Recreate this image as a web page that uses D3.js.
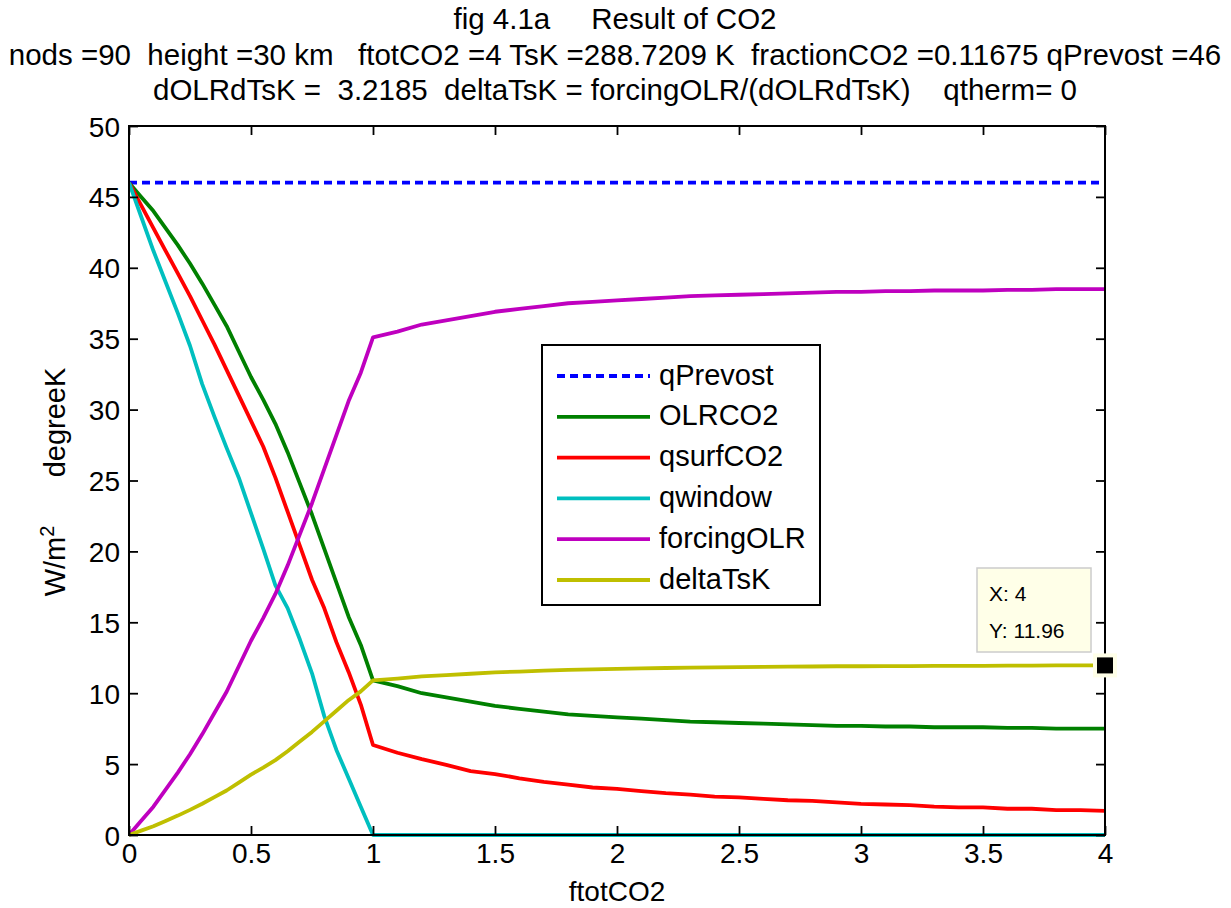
<!DOCTYPE html>
<html>
<head>
<meta charset="utf-8">
<script src="https://cdn.jsdelivr.net/npm/d3@7"></script>
<style>
  html, body { margin: 0; padding: 0; background: #fff; }
  svg text { font-family: "Liberation Sans", Arial, sans-serif; white-space: pre; }
</style>
</head>
<body>
<svg id="chart" width="1231" height="908"></svg>
<script>
// ftotCO2 sample points
const ftot = [0, 0.05, 0.1, 0.15, 0.2, 0.25, 0.3, 0.35, 0.4, 0.45, 0.5, 0.55, 0.6, 0.65, 0.7, 0.75, 0.8, 0.85, 0.9, 0.95, 1.0,
  1.1, 1.2, 1.3, 1.4, 1.5, 1.6, 1.7, 1.8, 1.9, 2.0, 2.1, 2.2, 2.3, 2.4, 2.5, 2.6, 2.7, 2.8, 2.9, 3.0,
  3.1, 3.2, 3.3, 3.4, 3.5, 3.6, 3.7, 3.8, 3.9, 4.0];

const qPrevost = [46, 46, 46, 46, 46, 46, 46, 46, 46, 46, 46, 46, 46, 46, 46, 46, 46, 46, 46, 46, 46,
  46, 46, 46, 46, 46, 46, 46, 46, 46, 46, 46, 46, 46, 46, 46, 46, 46, 46, 46, 46,
  46, 46, 46, 46, 46, 46, 46, 46, 46, 46];

const OLRCO2 = [46, 45.0, 44.0, 42.8, 41.6, 40.3, 38.9, 37.4, 35.9, 34.1, 32.3, 30.7, 29.0, 27.0, 24.8, 22.6, 20.2, 17.8, 15.4, 13.4, 10.9,
  10.5, 10.0, 9.7, 9.4, 9.1, 8.9, 8.7, 8.5, 8.4, 8.3, 8.2, 8.1, 8.0, 7.95, 7.9, 7.85, 7.8, 7.75, 7.7, 7.7,
  7.65, 7.65, 7.6, 7.6, 7.6, 7.55, 7.55, 7.5, 7.5, 7.5];

const qsurfCO2 = [46, 44.4, 42.8, 41.2, 39.6, 38.0, 36.3, 34.6, 32.8, 31.0, 29.2, 27.4, 25.2, 22.8, 20.4, 18.0, 16.0, 13.6, 11.5, 9.2, 6.35,
  5.8, 5.35, 4.95, 4.5, 4.3, 4.0, 3.75, 3.55, 3.35, 3.25, 3.1, 2.95, 2.85, 2.7, 2.65, 2.55, 2.45, 2.4, 2.3, 2.2,
  2.15, 2.1, 2.0, 1.95, 1.95, 1.85, 1.85, 1.75, 1.75, 1.7];

const qwindow = [46, 43.6, 41.2, 39.0, 36.8, 34.5, 31.8, 29.5, 27.3, 25.2, 22.7, 20.2, 17.6, 16.0, 13.8, 11.4, 8.4, 6.0, 4.0, 2.0, 0,
  0, 0, 0, 0, 0, 0, 0, 0, 0, 0, 0, 0, 0, 0, 0, 0, 0, 0, 0, 0,
  0, 0, 0, 0, 0, 0, 0, 0, 0, 0];

const forcingOLR = [0, 1.0, 2.0, 3.2, 4.4, 5.7, 7.1, 8.6, 10.1, 11.9, 13.7, 15.3, 17.0, 19.0, 21.2, 23.4, 25.8, 28.2, 30.6, 32.6, 35.1,
  35.5, 36.0, 36.3, 36.6, 36.9, 37.1, 37.3, 37.5, 37.6, 37.7, 37.8, 37.9, 38.0, 38.05, 38.1, 38.15, 38.2, 38.25, 38.3, 38.3,
  38.35, 38.35, 38.4, 38.4, 38.4, 38.45, 38.45, 38.5, 38.5, 38.5];

const deltaTsK = [0, 0.311, 0.621, 0.994, 1.367, 1.771, 2.206, 2.672, 3.138, 3.697, 4.257, 4.754, 5.282, 5.903, 6.587, 7.270, 8.016, 8.762, 9.508, 10.129, 10.906,
  11.030, 11.185, 11.279, 11.372, 11.465, 11.527, 11.589, 11.651, 11.682, 11.713, 11.745, 11.776, 11.807, 11.822, 11.838, 11.853, 11.869, 11.884, 11.900, 11.900,
  11.915, 11.915, 11.931, 11.931, 11.931, 11.947, 11.947, 11.962, 11.962, 11.962];

const seriesNames = ["qPrevost", "OLRCO2", "qsurfCO2", "qwindow", "forcingOLR", "deltaTsK"];
const seriesColors = ["#0000ff", "#008000", "#ff0000", "#00bfbf", "#bf00bf", "#bfbf00"];
const seriesValues = [qPrevost, OLRCO2, qsurfCO2, qwindow, forcingOLR, deltaTsK];

const xTicks = [0, 0.5, 1, 1.5, 2, 2.5, 3, 3.5, 4];
const xTickLabels = ["0", "0.5", "1", "1.5", "2", "2.5", "3", "3.5", "4"];
const yTicks = [0, 5, 10, 15, 20, 25, 30, 35, 40, 45, 50];

const titleLines = [
  "fig 4.1a     Result of CO2",
  "nods =90  height =30 km   ftotCO2 =4 TsK =288.7209 K  fractionCO2 =0.11675 qPrevost =46",
  "dOLRdTsK =  3.2185  deltaTsK = forcingOLR/(dOLRdTsK)    qtherm= 0"
];

const tipX = 4, tipY = 11.96;

const svg = d3.select("#chart");
const W = 1231, H = 908;
const plot = { left: 129, right: 1105, top: 126, bottom: 835 };

const x = d3.scaleLinear().domain([0, 4]).range([plot.left, plot.right]);
const y = d3.scaleLinear().domain([0, 50]).range([plot.bottom, plot.top]);

svg.append("rect").attr("width", W).attr("height", H).attr("fill", "#fff");

// title block
const titleY = [21, 57, 92];
const titleSize = 29.5;
titleLines.forEach((t, i) => {
  svg.append("text")
    .attr("x", 615).attr("y", titleY[i])
    .attr("text-anchor", "middle")
    .attr("dominant-baseline", "middle")
    .attr("font-size", titleSize)
    .attr("fill", "#000")
    .text(t);
});

// series lines
const clipId = "plotclip";
svg.append("clipPath").attr("id", clipId)
  .append("rect").attr("x", plot.left).attr("y", plot.top - 2)
  .attr("width", plot.right - plot.left).attr("height", plot.bottom - plot.top + 4);

const lw = 3.8;
const line = d3.line().x((d, i) => x(ftot[i])).y(d => y(d));
const gLines = svg.append("g").attr("clip-path", `url(#${clipId})`);
seriesValues.forEach((vals, k) => {
  const p = gLines.append("path")
    .attr("d", line(vals))
    .attr("fill", "none")
    .attr("stroke", seriesColors[k])
    .attr("stroke-width", lw)
    .attr("stroke-linejoin", "round");
  if (k === 0) p.attr("stroke-dasharray", "8,5").attr("stroke-linecap", "butt");
});

// axes, ticks pointing inward on all four sides
const fs = 28;
const axB = svg.append("g").attr("transform", `translate(0,${plot.bottom})`)
  .call(d3.axisBottom(x).tickValues(xTicks).tickFormat((d, i) => xTickLabels[i])
    .tickSizeInner(-9).tickSizeOuter(0).tickPadding(13));
const axT = svg.append("g").attr("transform", `translate(0,${plot.top})`)
  .call(d3.axisTop(x).tickValues(xTicks).tickFormat("").tickSizeInner(-9).tickSizeOuter(0));
const axL = svg.append("g").attr("transform", `translate(${plot.left},0)`)
  .call(d3.axisLeft(y).tickValues(yTicks).tickSizeInner(-9).tickSizeOuter(0).tickPadding(9));
const axR = svg.append("g").attr("transform", `translate(${plot.right},0)`)
  .call(d3.axisRight(y).tickValues(yTicks).tickFormat("").tickSizeInner(-9).tickSizeOuter(0));
[axB, axT, axL, axR].forEach(a => {
  a.select(".domain").remove();
  a.selectAll(".tick line").attr("stroke", "#000").attr("stroke-width", 1.8);
  a.selectAll(".tick text").attr("font-size", fs).attr("fill", "#000")
    .attr("font-family", "Liberation Sans, Arial, sans-serif");
});
axB.selectAll(".tick text").attr("dy", "0.55em");
axL.selectAll(".tick text").attr("dy", "0.36em");

svg.append("rect")
  .attr("x", plot.left).attr("y", plot.top)
  .attr("width", plot.right - plot.left).attr("height", plot.bottom - plot.top)
  .attr("fill", "none").attr("stroke", "#000").attr("stroke-width", 2);

// axis labels
svg.append("text")
  .attr("x", 617).attr("y", 894)
  .attr("text-anchor", "middle").attr("dominant-baseline", "middle")
  .attr("font-size", fs).text("ftotCO2");

const yl = svg.append("text")
  .attr("transform", "translate(65,482) rotate(-90)")
  .attr("text-anchor", "middle")
  .attr("font-size", 29);
yl.append("tspan").text("W/m");
yl.append("tspan").attr("font-size", 20).attr("dy", -11).text("2");
yl.append("tspan").attr("dy", 11).text("      degreeK");

// legend
const leg = { x: 542, y: 345, w: 278, h: 260 };
svg.append("rect")
  .attr("x", leg.x).attr("y", leg.y).attr("width", leg.w).attr("height", leg.h)
  .attr("fill", "#fff").attr("stroke", "#000").attr("stroke-width", 2);
seriesNames.forEach((name, k) => {
  const yy = 376 + k * 40.8;
  const l = svg.append("line")
    .attr("x1", 557).attr("x2", 650).attr("y1", yy).attr("y2", yy)
    .attr("stroke", seriesColors[k]).attr("stroke-width", lw);
  if (k === 0) l.attr("stroke-dasharray", "8,5");
  svg.append("text")
    .attr("x", 659).attr("y", yy + 1)
    .attr("dominant-baseline", "middle")
    .attr("font-size", 29).text(name);
});

// data tip on the last deltaTsK point
const tip = svg.append("g");
tip.append("rect")
  .attr("x", 977).attr("y", 568).attr("width", 114).attr("height", 84)
  .attr("fill", "#ffffe8").attr("stroke", "#cccccc").attr("stroke-width", 1.5);
tip.append("text").attr("x", 989).attr("y", 595).attr("dominant-baseline", "middle")
  .attr("font-size", 21).text("X: " + tipX);
tip.append("text").attr("x", 989).attr("y", 632).attr("dominant-baseline", "middle")
  .attr("font-size", 21).text("Y: " + tipY);
tip.append("rect")
  .attr("x", x(tipX) - 12).attr("y", y(tipY) - 12).attr("width", 24).attr("height", 24)
  .attr("fill", "#ffffe8");
tip.append("rect")
  .attr("x", x(tipX) - 8).attr("y", y(tipY) - 8).attr("width", 16).attr("height", 16)
  .attr("fill", "#000");
</script>
</body>
</html>
